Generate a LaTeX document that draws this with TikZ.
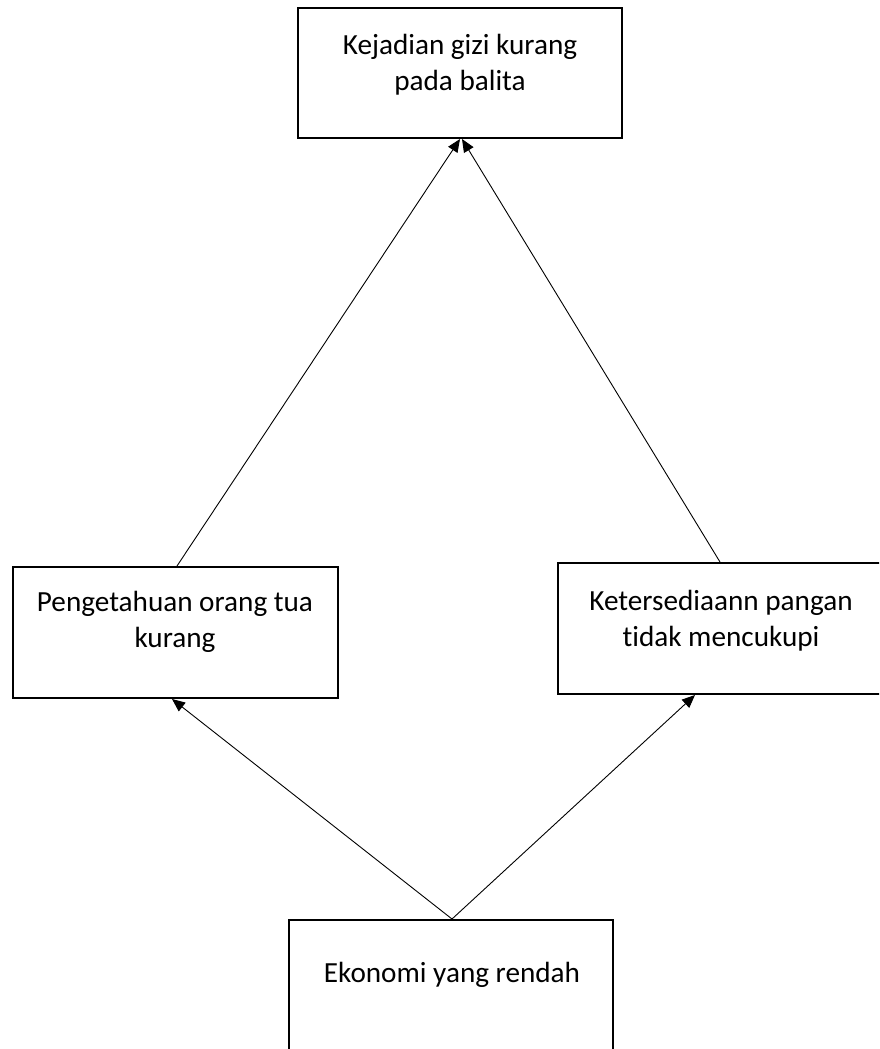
\documentclass[tikz,border=0pt]{standalone}
\usepackage{fontspec}
\setmainfont{Carlito}[Ligatures=NoCommon]
\usetikzlibrary{arrows.meta}
\begin{document}
\begin{tikzpicture}[x=1pt,y=-1pt,
  box/.style={draw=black, line width=2pt, minimum width=#1, inner sep=0pt, rectangle},
  lbl/.style={align=center, inner sep=0pt, font=\fontsize{29.2}{36}\selectfont},
  conn/.style={line width=0.9pt, -{Triangle[length=13pt,width=11pt]}}]
\clip (0,0) rectangle (879,1049);
\fill[white] (0,0) rectangle (879,1049);
% boxes
\node[box=324pt, minimum height=130pt] (top) at (460,73) {};
\node[box=325pt, minimum height=131pt] (left) at (175.5,632.5) {};
\node[box=327pt, minimum height=131pt] (right) at (721.5,628.5) {};
\node[box=324pt, minimum height=133pt] (bot) at (451,986.5) {};
% labels
\node[lbl] (toplbl) at (460,65) {Kejadian gizi kurang\\pada balita};
\node[lbl] (leftlbl) at (175,621.5) {Pengetahuan orang tua\\kurang};
\node[lbl] (rightlbl) at (721,620.5) {Ketersediaann pangan\\tidak mencukupi};
\node[lbl] (botlbl) at (452,975) {Ekonomi yang rendah};
% connectors
\draw[conn] ([xshift=1.5pt]left.north) -- ([xshift=0pt]top.south);
\draw[conn] ([xshift=-1.5pt]right.north) -- ([xshift=2pt]top.south);
\draw[conn] ([xshift=1pt]bot.north) -- ([xshift=-3.5pt]left.south);
\draw[conn] ([xshift=1pt]bot.north) -- ([xshift=-26.5pt]right.south);
\end{tikzpicture}
\end{document}
